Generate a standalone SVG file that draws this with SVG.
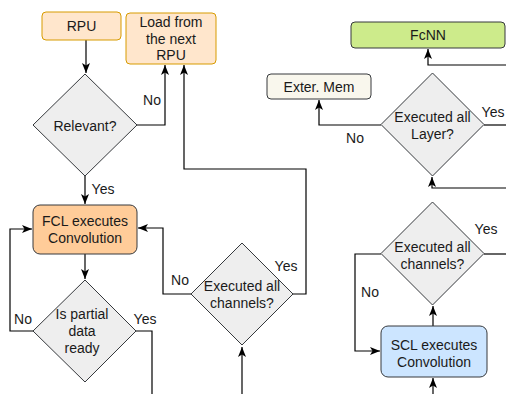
<svg xmlns="http://www.w3.org/2000/svg" width="506" height="394" viewBox="0 0 506 394">
<defs>
<marker id="arr" markerUnits="userSpaceOnUse" markerWidth="10" markerHeight="10" viewBox="0 0 10 10" refX="10" refY="5" orient="auto">
<path d="M0,1 L10,5 L0,9 L2.5,5 z" fill="#000"/>
</marker>
<style>
text{font-family:"Liberation Sans",Arial,sans-serif;font-size:14px;fill:#1a1a1a;text-anchor:middle;dominant-baseline:central}
.orange{fill:#ffe6cc;stroke:#d79b00;stroke-width:1}
.fcl{fill:#ffcc99;stroke:#36393d;stroke-width:1}
.dia{fill:#eeeeee;stroke:#36393d;stroke-width:1}
.green{fill:#cdeb8b;stroke:#36393d;stroke-width:1}
.mem{fill:#f9f7ed;stroke:#36393d;stroke-width:1}
.blue{fill:#cce5ff;stroke:#36393d;stroke-width:1}
.edge{fill:none;stroke:#000;stroke-width:1.2}
.edge2{fill:none;stroke:#000;stroke-width:1.2;marker-end:url(#arr)}
</style>
</defs>
<rect width="506" height="394" fill="#fff"/>
<g id="connectors">
<path class="edge2" d="M86,40 V73"/>
<path class="edge2" d="M137,125 H165 V65"/>
<path class="edge2" d="M85,176 V204"/>
<path class="edge2" d="M85,254 V279"/>
<path class="edge2" d="M33,331 H10 V229 H32"/>
<path class="edge" d="M136,331 H152 V394"/>
<path class="edge2" d="M191,294 H163 V228 H138"/>
<path class="edge2" d="M293,294 H306 V169 H184 V65"/>
<path class="edge2" d="M242,394 V347"/>
<path class="edge2" d="M381,125 H319 V100"/>
<path class="edge" d="M484,125 H506"/>
<path class="edge2" d="M506,65 H428 V49"/>
<path class="edge2" d="M506,188 H432 V177"/>
<path class="edge" d="M484,254 H506"/>
<path class="edge2" d="M381,254 H355 V351 H380"/>
<path class="edge2" d="M433,326 V306"/>
<path class="edge2" d="M433,394 V378"/>
</g>
<g id="rpu"><rect class="orange" x="42" y="12" width="79" height="28" rx="4"/><text x="81.5" y="26">RPU</text></g>
<g id="load"><rect class="orange" x="126" y="13" width="90" height="51" rx="4"/><text x="171" y="21.7">Load from</text><text x="171" y="38.5">the next</text><text x="171" y="55.3">RPU</text></g>
<g id="relevant"><polygon class="dia" points="85,74 137,125 85,176 33,125"/><text x="85" y="125.5">Relevant?</text></g>
<g id="fcl"><rect class="fcl" x="33" y="205" width="104" height="49" rx="7"/><text x="85" y="221">FCL executes</text><text x="85" y="238">Convolution</text></g>
<g id="partial"><polygon class="dia" points="85,280 136,331 85,382 33,331"/><text x="82" y="314">Is partial</text><text x="82" y="331">data</text><text x="82" y="347.5">ready</text></g>
<g id="channels1"><polygon class="dia" points="242,243 293,294 242,345 191,294"/><text x="242" y="286">Executed all</text><text x="242" y="303">channels?</text></g>
<g id="fcnn"><rect class="green" x="351" y="22" width="154" height="26" rx="4"/><text x="428" y="35">FcNN</text></g>
<g id="extmem"><rect class="mem" x="267" y="74" width="104" height="25" rx="4"/><text x="319" y="87">Exter. Mem</text></g>
<g id="layer"><polygon class="dia" points="432.5,73 484,124.5 432.5,176 381,124.5"/><text x="432.5" y="117">Executed all</text><text x="432.5" y="134">Layer?</text></g>
<g id="channels2"><polygon class="dia" points="432.5,202 484,253.5 432.5,305 381,253.5"/><text x="432.5" y="247">Executed all</text><text x="432.5" y="264">channels?</text></g>
<g id="scl"><rect class="blue" x="381" y="326" width="106" height="51" rx="7"/><text x="434" y="344.5">SCL executes</text><text x="434" y="361.5">Convolution</text></g>
<g id="labels">
<text x="152" y="99.5">No</text>
<text x="103" y="189">Yes</text>
<text x="23" y="318.5">No</text>
<text x="145" y="318.5">Yes</text>
<text x="180" y="280">No</text>
<text x="286" y="266">Yes</text>
<text x="355" y="138">No</text>
<text x="493" y="112">Yes</text>
<text x="486" y="229">Yes</text>
<text x="370" y="292">No</text>
</g>
</svg>
